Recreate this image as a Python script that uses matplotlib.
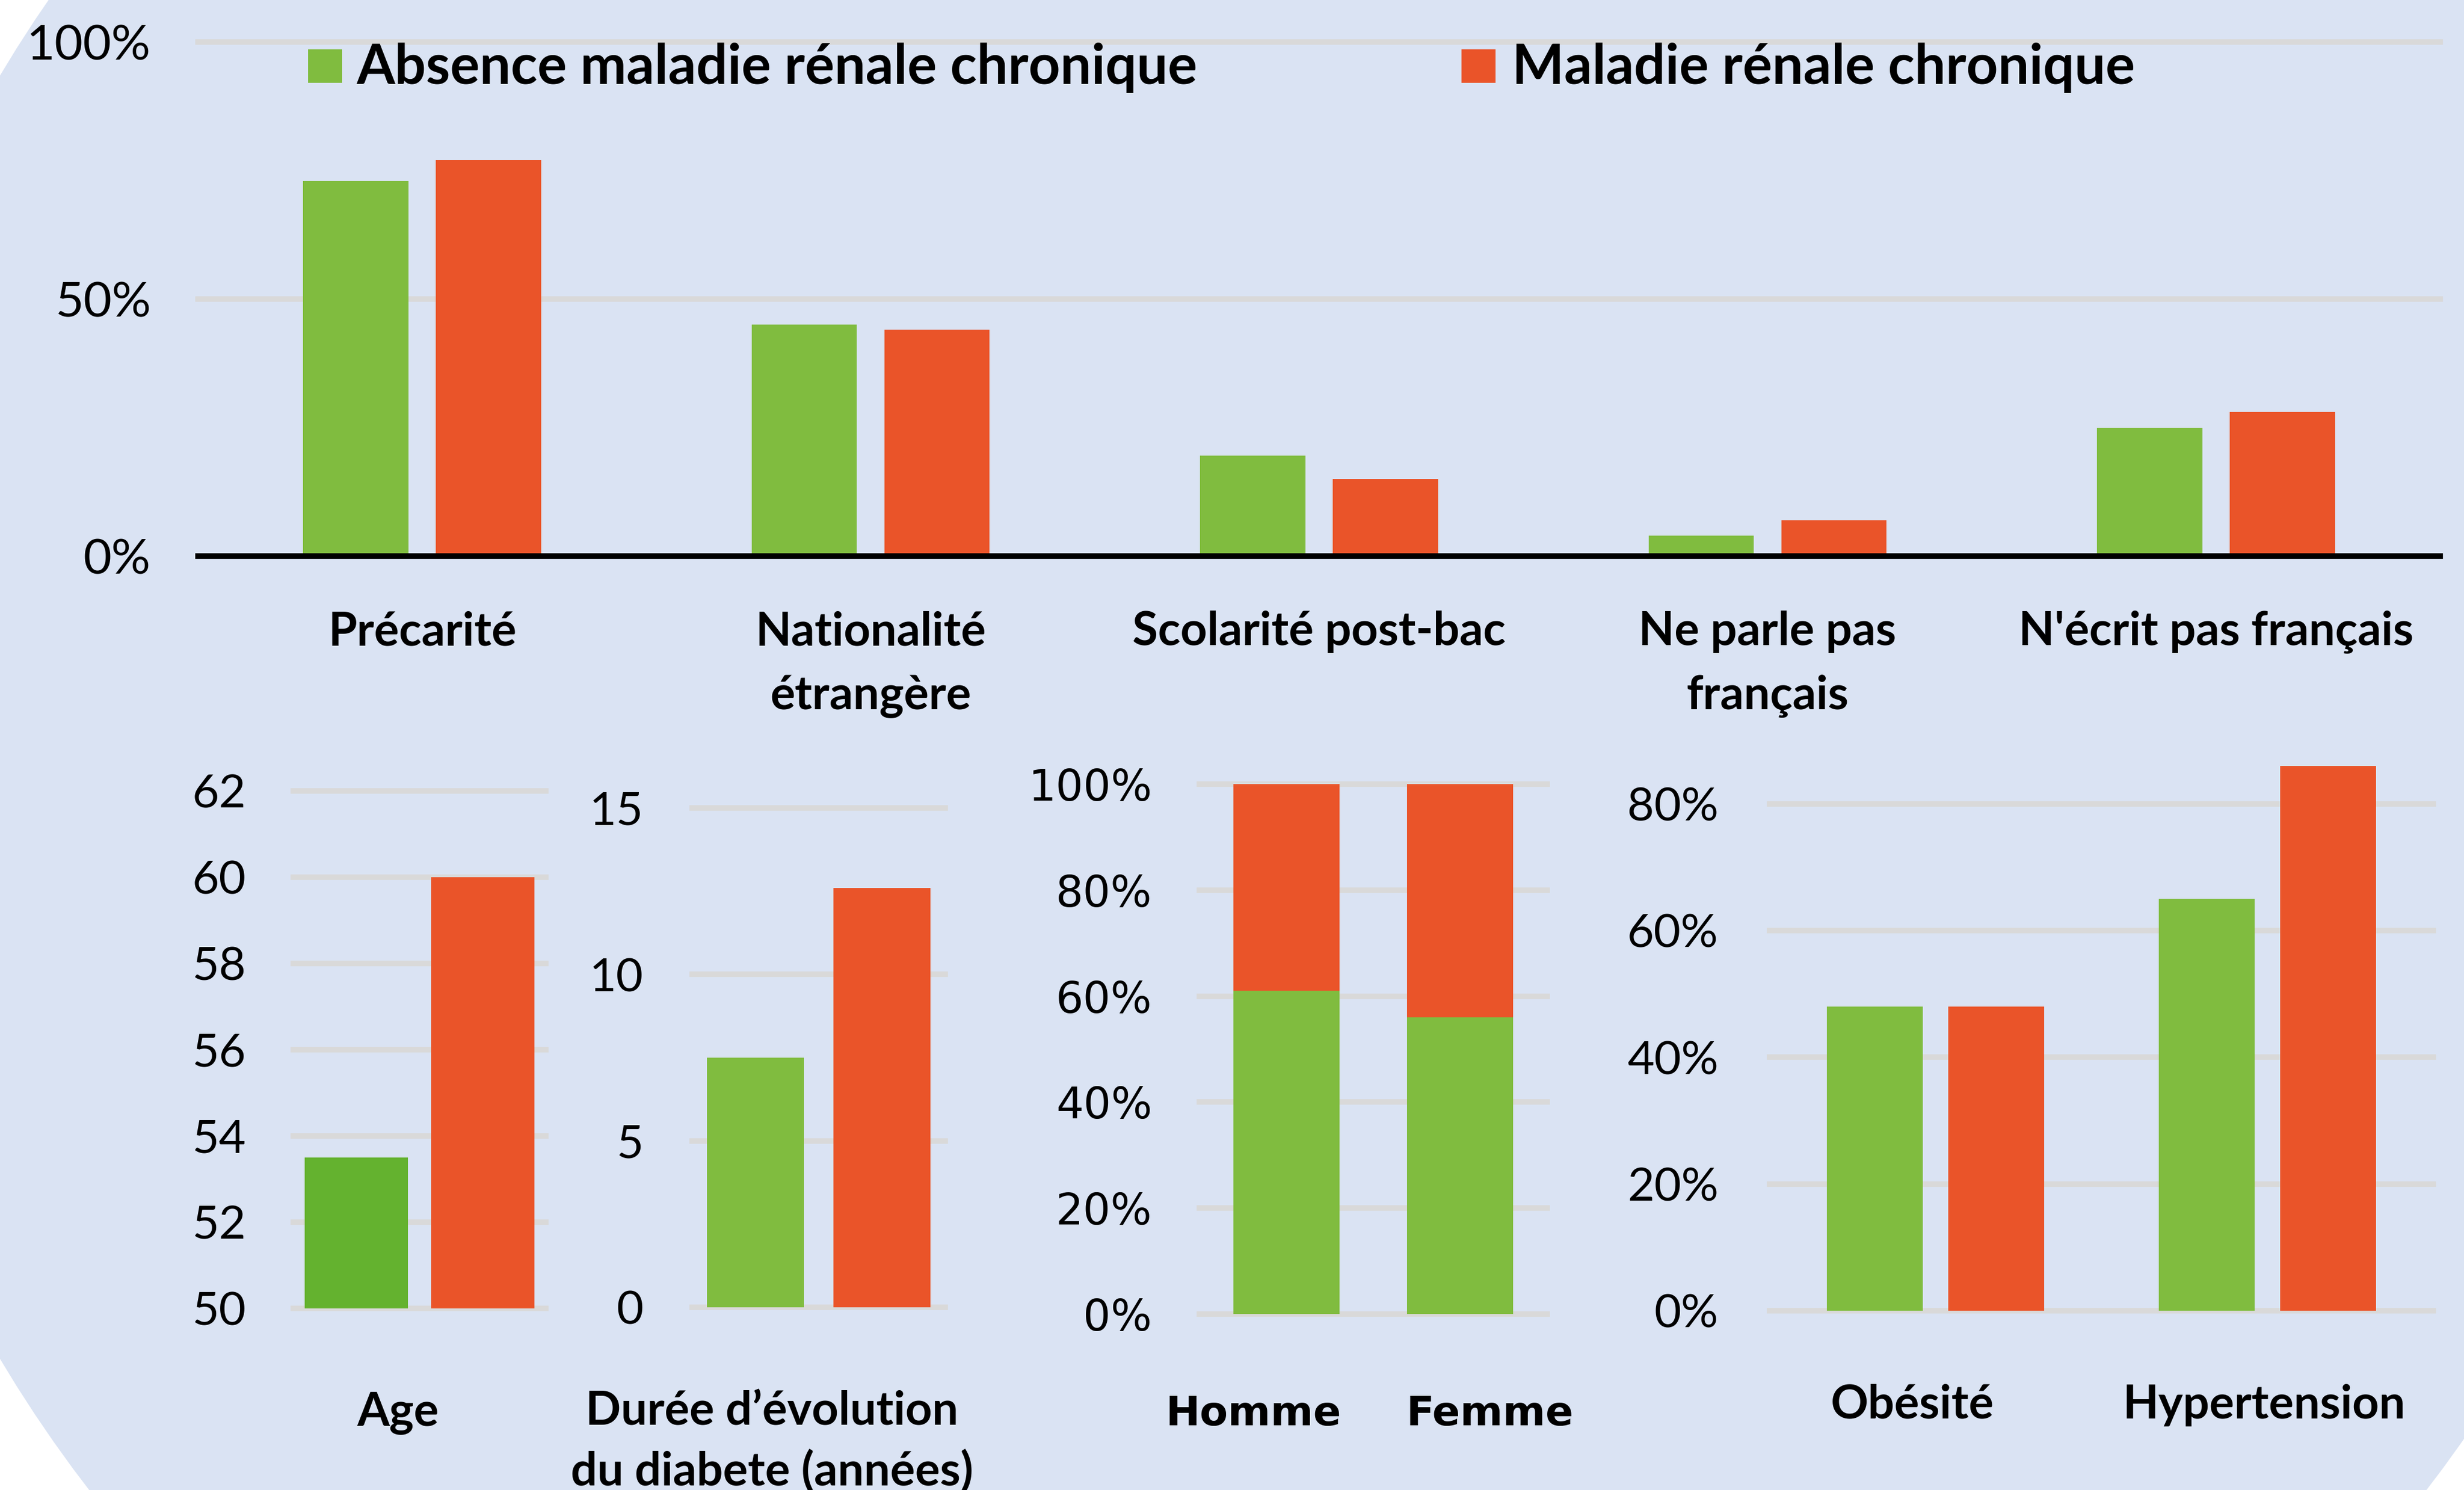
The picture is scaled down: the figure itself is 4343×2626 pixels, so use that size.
import matplotlib
matplotlib.use("Agg")
import matplotlib.pyplot as plt
from matplotlib.patches import Ellipse, Rectangle
from matplotlib.ticker import PercentFormatter
from matplotlib.transforms import blended_transform_factory

# --- data ---
series_names = ["Absence maladie rénale chronique", "Maladie rénale chronique"]

top_categories = ["Précarité", "Nationalité\nétrangère", "Scolarité post-bac",
                  "Ne parle pas\nfrançais", "N'écrit pas français"]
top_absence = [73, 45, 19.5, 4, 25]
top_mrc = [77, 44, 15, 7, 28]
top_ticks = [0, 50, 100]

age_label = "Age"
age_values = [53.5, 60.0]
age_ticks = [50, 52, 54, 56, 58, 60, 62]

duree_label = "Durée d’évolution\ndu diabete (années)"
duree_values = [7.5, 12.6]
duree_ticks = [0, 5, 10, 15]

sexe_categories = ["Homme", "Femme"]
sexe_absence = [61, 56]
sexe_mrc = [39, 44]
sexe_ticks = [0, 20, 40, 60, 80, 100]

comorb_categories = ["Obésité", "Hypertension"]
comorb_absence = [48, 65]
comorb_mrc = [48, 86]
comorb_ticks = [0, 20, 40, 60, 80]

# --- style ---
GREEN = "#80BC3F"
GREEN_AGE = "#64B22F"
RED = "#EA5429"
BG = "#DAE3F3"
GRID = "#D9D9D9"
FONT = "Lato"
WIDE = "DejaVu Sans"

W, H, DPI = 4343, 2626, 100
fig = plt.figure(figsize=(W / DPI, H / DPI), dpi=DPI, facecolor="white")

fig.patches.append(Ellipse((2217 / W, 1 - 1264 / H), 2 * 2531 / W, 2 * 2344 / H,
                           transform=fig.transFigure, facecolor=BG,
                           edgecolor="none", zorder=-10))


def px_axes(x0, x1, ytop, ybot):
    ax = fig.add_axes([x0 / W, 1 - ybot / H, (x1 - x0) / W, (ybot - ytop) / H])
    ax.patch.set_alpha(0)
    for s in ax.spines.values():
        s.set_visible(False)
    ax.tick_params(length=0)
    ax.set_xticks([])
    return ax


def grid(ax, ticks):
    for t in ticks:
        ax.axhline(t, color=GRID, lw=7, zorder=0, clip_on=False)


def put_label(ax, x, text, baseline, step, size=59, family=FONT):
    tr = blended_transform_factory(ax.transData, fig.transFigure)
    for k, line in enumerate(text.split("\n")):
        ax.text(x, 1 - (baseline + k * step) / H, line, transform=tr,
                ha="center", va="baseline", fontsize=size,
                fontweight="bold", family=family)


def yticks(ax, ticks, pad, size=59, family=FONT, pct=False):
    ax.set_yticks(ticks)
    if pct:
        ax.yaxis.set_major_formatter(PercentFormatter(xmax=100, decimals=0))
    ax.tick_params(axis="y", pad=pad, labelsize=size)
    for lab in ax.get_yticklabels():
        lab.set_family(family)


# --- top panel ---
ax = px_axes(349, 4301, 74, 980)
xs = list(range(len(top_categories)))
ax.bar([x - 0.148 for x in xs], top_absence, width=0.235, color=GREEN, zorder=2)
ax.bar([x + 0.148 for x in xs], top_mrc, width=0.235, color=RED, zorder=2)
grid(ax, top_ticks[1:])
ax.axhline(0, color="black", lw=7, zorder=3, clip_on=False)
ax.set_xlim(-0.5, len(top_categories) - 0.5)
ax.set_ylim(0, 100)
yticks(ax, top_ticks, 60, size=62, pct=True)
for x, lab in zip(xs, top_categories):
    put_label(ax, x, lab, 1137, 113)

# legend
for (x0, txt_x), name, col in zip([(543, 629), (2576, 2665)], series_names, [GREEN, RED]):
    fig.patches.append(Rectangle((x0 / W, 1 - 146 / H), 60 / W, 59 / H,
                                 transform=fig.transFigure, facecolor=col,
                                 edgecolor="none", zorder=5))
    fig.text(txt_x / W, 1 - 148 / H, name, fontsize=70, fontweight="bold",
             family=FONT, va="baseline", ha="left")

# --- age ---
ax = px_axes(517, 962, 1394, 2306)
ax.bar([0, 1], age_values, width=0.82, color=[GREEN_AGE, RED], zorder=2)
grid(ax, age_ticks)
ax.set_xlim(-0.5, 1.5)
ax.set_ylim(age_ticks[0], age_ticks[-1])
yticks(ax, age_ticks, 60)
put_label(ax, 0.33, age_label, 2512, 107)

# --- duree ---
ax = px_axes(1220, 1666, 1424, 2304)
ax.bar([0, 1], duree_values, width=0.77, color=[GREEN, RED], zorder=2)
grid(ax, duree_ticks)
ax.set_xlim(-0.5, 1.5)
ax.set_ylim(duree_ticks[0], duree_ticks[-1])
yticks(ax, duree_ticks, 62)
put_label(ax, 0.13, duree_label, 2511, 107)

# --- sexe (stacked) ---
ax = px_axes(2114, 2727, 1382, 2316)
xs = list(range(len(sexe_categories)))
ax.bar(xs, sexe_absence, width=0.61, color=GREEN, zorder=2)
ax.bar(xs, sexe_mrc, width=0.61, bottom=sexe_absence, color=RED, zorder=2)
grid(ax, sexe_ticks)
ax.set_xlim(-0.5, 1.5)
ax.set_ylim(0, 100)
yticks(ax, sexe_ticks, 60, size=55, family=WIDE, pct=True)
for x, lab in zip([-0.19, 1.17], sexe_categories):
    put_label(ax, x, lab, 2512, 107, size=52, family=WIDE)

# --- comorbidites ---
ax = px_axes(3119, 4289, 1305, 2310)
xs = list(range(len(comorb_categories)))
ax.bar([x - 0.183 for x in xs], comorb_absence, width=0.29, color=GREEN, zorder=2)
ax.bar([x + 0.183 for x in xs], comorb_mrc, width=0.29, color=RED, zorder=2)
grid(ax, comorb_ticks)
ax.set_xlim(-0.5, 1.5)
ax.set_ylim(0, 90)
yticks(ax, comorb_ticks, 65, pct=True)
for x, lab in zip([-0.07, 0.99], comorb_categories):
    put_label(ax, x, lab, 2500, 107)

fig.savefig("out.png", dpi=DPI, facecolor="white")
